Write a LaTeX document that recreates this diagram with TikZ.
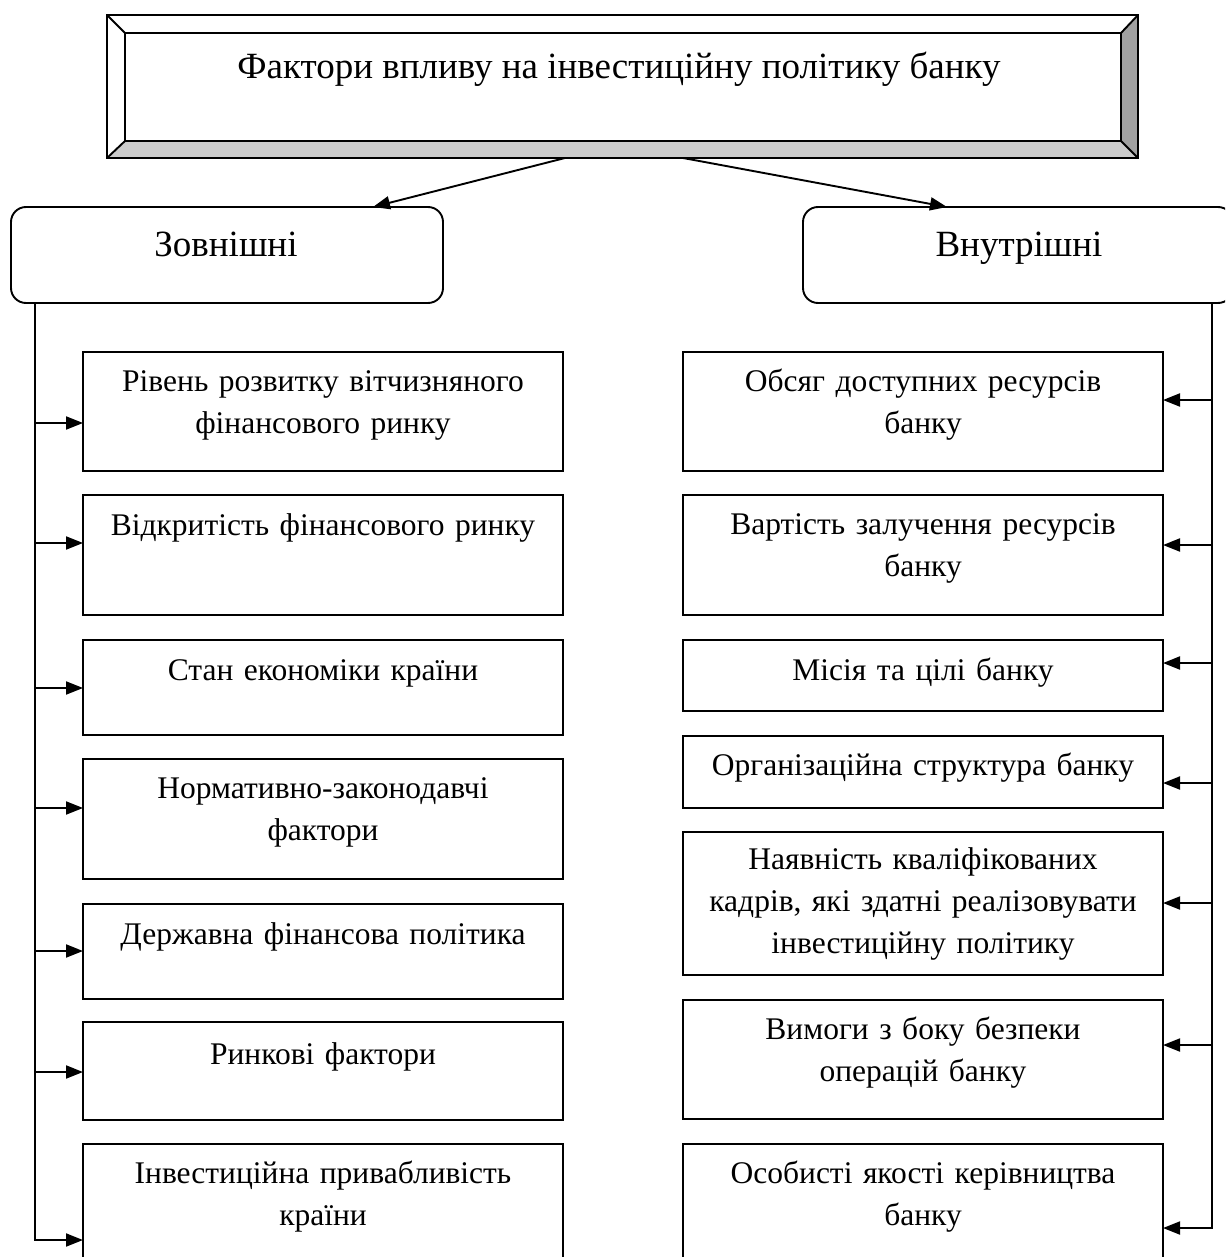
\documentclass[tikz,border=0pt]{standalone}
\usepackage{fontspec}
\setmainfont{Liberation Serif}
\usetikzlibrary{arrows.meta,calc}
\definecolor{bevbot}{gray}{0.80}
\definecolor{bevright}{gray}{0.63}
\begin{document}
\begin{tikzpicture}[x=1pt,y=-1pt,line width=1.9pt,
  geo/.style={rectangle,inner sep=0pt,outer sep=0pt,anchor=north west},
  fbox/.style={geo,draw,minimum width=480pt},
  hbox/.style={geo,draw,rounded corners=15pt,minimum height=96pt},
  txt/.style={anchor=base,inner sep=0pt,text width=476pt,align=center,font=\fontsize{31.5}{42}\selectfont},
  htxt/.style={anchor=base,inner sep=0pt,font=\fontsize{37}{44}\selectfont},
  arr/.style={-{Triangle[length=17pt,width=13pt]}}]
\useasboundingbox (0,0) rectangle (1225,1257);
\clip (0,0) rectangle (1225,1257);
\fill[white] (0,0) rectangle (1225,1257);
% title box with bevel
\node[geo,minimum width=1031pt,minimum height=143pt] (top) at (107,15) {};
\node[geo,minimum width=996pt,minimum height=108pt] (topin) at (125,33) {};
\fill[bevbot] (top.south west) -- (top.south east) -- (topin.south east) -- (topin.south west) -- cycle;
\fill[bevright] (top.south east) -- (top.north east) -- (topin.north east) -- (topin.south east) -- cycle;
\draw (top.north west) rectangle (top.south east);
\draw (topin.north west) rectangle (topin.south east);
\draw (top.north west) -- (topin.north west);
\draw (top.north east) -- (topin.north east);
\draw (top.south west) -- (topin.south west);
\draw (top.south east) -- (topin.south east);
\node[htxt] (title) at (619,79) {Фактори впливу на інвестиційну політику банку};
% headers
\node[hbox,minimum width=432pt] (ext) at (11,207) {};
\node[htxt] (extT) at (226,256) {Зовнішні};
\node[hbox,minimum width=430pt] (int) at (803,207) {};
\node[htxt] (intT) at (1019,256) {Внутрішні};
\draw[arr] ($(top.south west)+(458,0)$) -- ($(ext.north west)+(362,0)$);
\draw[arr] ($(top.south west)+(576,0)$) -- ($(int.north west)+(144,0)$);
% left boxes
\node[fbox,minimum height=119pt] (L1) at (83,352) {};
\node[fbox,minimum height=120pt] (L2) at (83,495) {};
\node[fbox,minimum height=95pt] (L3) at (83,640) {};
\node[fbox,minimum height=120pt] (L4) at (83,759) {};
\node[fbox,minimum height=95pt] (L5) at (83,904) {};
\node[fbox,minimum height=98pt] (L6) at (83,1022) {};
\node[fbox,minimum height=160pt] (L7) at (83,1144) {};
\node[txt] (L1t) at ($(L1.north)+(0,39)$) {Рівень розвитку вітчизняного\\фінансового ринку};
\node[txt] (L2t) at ($(L2.north)+(0,40)$) {Відкритість фінансового ринку};
\node[txt] (L3t) at ($(L3.north)+(0,40)$) {Стан економіки країни};
\node[txt] (L4t) at ($(L4.north)+(0,39)$) {Нормативно-законодавчі\\фактори};
\node[txt] (L5t) at ($(L5.north)+(0,40)$) {Державна фінансова політика};
\node[txt] (L6t) at ($(L6.north)+(0,42)$) {Ринкові фактори};
\node[txt] (L7t) at ($(L7.north)+(0,39)$) {Інвестиційна привабливість\\країни};
% right boxes
\node[fbox,minimum height=119pt] (R1) at (683,352) {};
\node[fbox,minimum height=120pt] (R2) at (683,495) {};
\node[fbox,minimum height=71pt] (R3) at (683,640) {};
\node[fbox,minimum height=72pt] (R4) at (683,736) {};
\node[fbox,minimum height=143pt] (R5) at (683,832) {};
\node[fbox,minimum height=119pt] (R6) at (683,1000) {};
\node[fbox,minimum height=160pt] (R7) at (683,1144) {};
\node[txt] (R1t) at ($(R1.north)+(0,39)$) {Обсяг доступних ресурсів\\банку};
\node[txt] (R2t) at ($(R2.north)+(0,39)$) {Вартість залучення ресурсів\\банку};
\node[txt] (R3t) at ($(R3.north)+(0,40)$) {Місія та цілі банку};
\node[txt] (R4t) at ($(R4.north)+(0,39)$) {Організаційна структура банку};
\node[txt] (R5t) at ($(R5.north)+(0,37)$) {Наявність кваліфікованих\\кадрів, які здатні реалізовувати\\інвестиційну політику};
\node[txt] (R6t) at ($(R6.north)+(0,39)$) {Вимоги з боку безпеки\\операцій банку};
\node[txt] (R7t) at ($(R7.north)+(0,39)$) {Особисті якості керівництва\\банку};
% spines
\coordinate (sL) at ($(ext.south west)+(24,0)$);
\coordinate (sR) at ($(int.south east)+(-21,0)$);
\draw[arr] (sL) |- (L7.west |- 0,1240);
\draw[arr] (sL |- 0,423) -- (L1.west |- 0,423);
\draw[arr] (sL |- 0,543) -- (L2.west |- 0,543);
\draw[arr] (sL |- 0,688) -- (L3.west |- 0,688);
\draw[arr] (sL |- 0,808) -- (L4.west |- 0,808);
\draw[arr] (sL |- 0,951) -- (L5.west |- 0,951);
\draw[arr] (sL |- 0,1072) -- (L6.west |- 0,1072);
\draw[arr] (sR) |- (R7.east |- 0,1228);
\draw[arr] (sR |- 0,400) -- (R1.east |- 0,400);
\draw[arr] (sR |- 0,545) -- (R2.east |- 0,545);
\draw[arr] (sR |- 0,663) -- (R3.east |- 0,663);
\draw[arr] (sR |- 0,783) -- (R4.east |- 0,783);
\draw[arr] (sR |- 0,903) -- (R5.east |- 0,903);
\draw[arr] (sR |- 0,1045) -- (R6.east |- 0,1045);
\end{tikzpicture}
\end{document}
